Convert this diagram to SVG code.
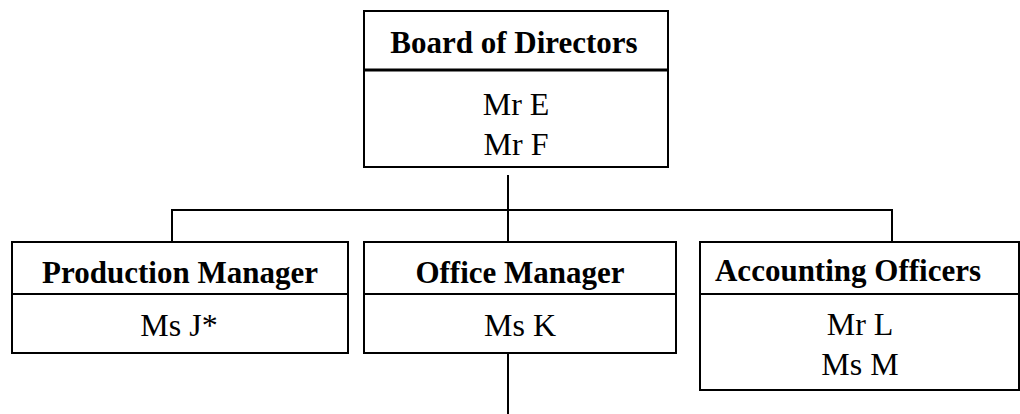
<svg xmlns="http://www.w3.org/2000/svg" width="1020" height="414" viewBox="0 0 1020 414">
<style>
.box{fill:#fff;stroke:#000;stroke-width:2}
.div{stroke:#000;stroke-width:2}
.thick{stroke:#000;stroke-width:3}
.c{fill:none;stroke:#000;stroke-width:2}
.t{font-family:"Liberation Serif","Times New Roman",serif;font-size:31px;font-weight:bold;text-anchor:middle;fill:#000}
.n{font-family:"Liberation Serif","Times New Roman",serif;font-size:32px;text-anchor:middle;fill:#000}
</style>
<rect width="1020" height="414" fill="#fff"/>
<g id="connectors">
<line class="c" x1="508" y1="175" x2="508" y2="242"/>
<polyline class="c" points="172,242 172,210 892,210 892,242"/>
<line class="c" x1="508" y1="350" x2="508" y2="414"/>
</g>
<g id="board">
<rect class="box" x="364" y="11" width="304" height="156"/>
<line class="thick" x1="364" y1="70" x2="668" y2="70"/>
<text class="t" x="514" y="53">Board of Directors</text>
<text class="n" x="516" y="115">Mr E</text>
<text class="n" x="516" y="155">Mr F</text>
</g>
<g id="production">
<rect class="box" x="12" y="242" width="336" height="111"/>
<line class="div" x1="12" y1="294" x2="348" y2="294"/>
<text class="t" x="180" y="283">Production Manager</text>
<text class="n" x="179" y="336">Ms J*</text>
</g>
<g id="office">
<rect class="box" x="364" y="242" width="312" height="111"/>
<line class="div" x1="364" y1="294" x2="676" y2="294"/>
<text class="t" x="520" y="283">Office Manager</text>
<text class="n" x="520" y="336">Ms K</text>
</g>
<g id="accounting">
<rect class="box" x="700" y="242" width="319" height="148"/>
<line class="div" x1="700" y1="294" x2="1019" y2="294"/>
<text class="t" x="848" y="281">Accounting Officers</text>
<text class="n" x="860" y="335">Mr L</text>
<text class="n" x="860" y="375">Ms M</text>
</g>
</svg>
